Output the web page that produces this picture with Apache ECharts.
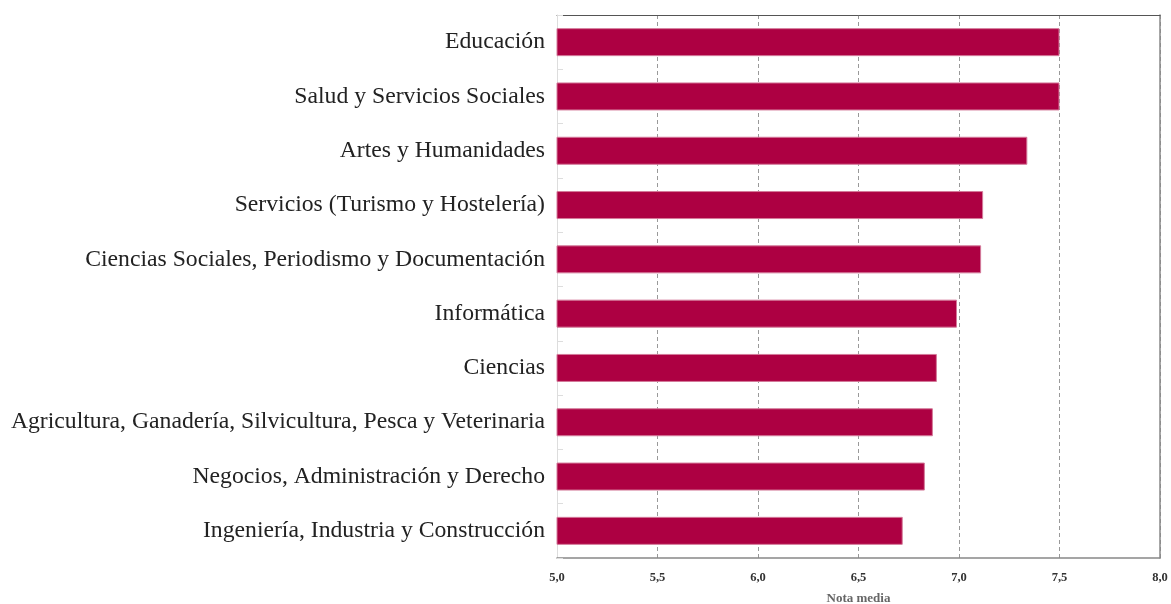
<!DOCTYPE html>
<html>
<head>
<meta charset="utf-8">
<script src="https://cdn.jsdelivr.net/npm/echarts@6/dist/echarts.min.js"></script>
<style>
html,body{margin:0;padding:0;background:#fff;}
#chart{width:1171px;height:604px;}
</style>
</head>
<body>
<div id="chart"></div>
<script>
const categories = [
  "Educación",
  "Salud y Servicios Sociales",
  "Artes y Humanidades",
  "Servicios (Turismo y Hostelería)",
  "Ciencias Sociales, Periodismo y Documentación",
  "Informática",
  "Ciencias",
  "Agricultura, Ganadería, Silvicultura, Pesca y Veterinaria",
  "Negocios, Administración y Derecho",
  "Ingeniería, Industria y Construcción"
];
const values = [7.50, 7.50, 7.34, 7.12, 7.11, 6.99, 6.89, 6.87, 6.83, 6.72];
const axisName = "Nota media";

const chart = echarts.init(document.getElementById('chart'));
const fmt = v => v.toFixed(1).replace('.', ',');
chart.setOption({
  animation: false,
  grid: { left: 557, right: 11, top: 15, bottom: 46, containLabel: false, outerBoundsMode: 'none' },
  xAxis: [{
    type: 'value', min: 5, max: 8, interval: 0.5, position: 'bottom',
    name: axisName, nameLocation: 'middle', nameGap: 34,
    nameTextStyle: { fontFamily: 'Liberation Serif', fontSize: 13, color: '#666', fontWeight: 'bold' },
    axisLine: { show: true, lineStyle: { color: '#888', width: 1.5 } },
    axisTick: { show: false },
    axisLabel: { formatter: fmt, fontFamily: 'Liberation Serif', fontSize: 12.5, color: '#333', margin: 13, fontWeight: 'bold' },
    splitLine: { show: true, lineStyle: { color: '#999', type: [4, 3], width: 1 } }
  }, {
    type: 'value', min: 5, max: 8, interval: 0.5, position: 'top',
    axisLine: { show: true, lineStyle: { color: '#555', width: 1 } },
    axisTick: { show: false }, axisLabel: { show: false }, splitLine: { show: false }
  }],
  yAxis: [{
    type: 'category', data: categories, inverse: true,
    axisLine: { show: true, lineStyle: { color: '#ddd', width: 1 } },
    axisTick: { show: true, inside: true, length: 6, lineStyle: { color: '#ddd' } },
    axisLabel: { fontFamily: 'Liberation Serif', fontSize: 23.7, color: '#222', margin: 12 },
    splitLine: { show: false }
  }, {
    type: 'category', data: categories, inverse: true, position: 'right',
    axisLine: { show: true, lineStyle: { color: '#888', width: 1.5 } },
    axisTick: { show: false }, axisLabel: { show: false }
  }],
  series: [{
    type: 'bar', data: values, xAxisIndex: 0, yAxisIndex: 0,
    barWidth: 28,
    itemStyle: { color: '#AD0042', borderColor: '#d47a9a', borderWidth: 1 }
  }]
});
</script>
</body>
</html>
